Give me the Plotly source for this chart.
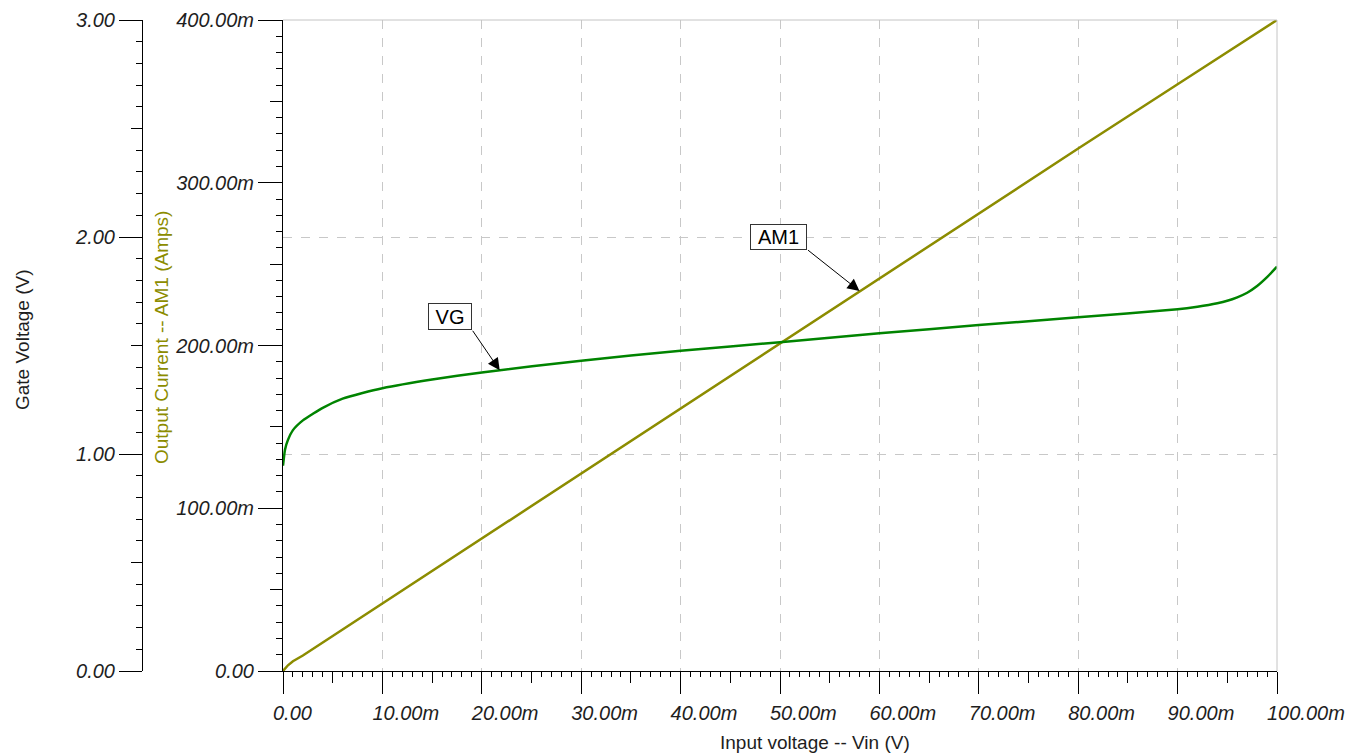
import numpy as np
import plotly.graph_objects as go

# Output current AM1 (A) versus input voltage Vin (V)
vin_am1 = [0.0, 0.0005, 0.001, 0.002, 0.005, 0.010, 0.020, 0.030, 0.040,
           0.050, 0.060, 0.070, 0.080, 0.090, 0.100]
am1 = [0.0, 0.0035, 0.006, 0.0095, 0.0215, 0.0415, 0.0815, 0.1215, 0.1615,
       0.2015, 0.2415, 0.281, 0.321, 0.3605, 0.400]

# Gate voltage VG (V) versus input voltage Vin (V)
vin_vg = [0.0, 0.0002, 0.0005, 0.001, 0.002, 0.003, 0.004, 0.006, 0.008, 0.010,
          0.015, 0.020, 0.030, 0.040, 0.050, 0.060, 0.070, 0.080, 0.090,
          0.092, 0.094, 0.095, 0.096, 0.097, 0.098, 0.099, 0.100]
vg = [0.946, 1.02, 1.065, 1.11, 1.155, 1.185, 1.213, 1.255, 1.281, 1.303,
      1.343, 1.376, 1.430, 1.476, 1.515, 1.556, 1.594, 1.630, 1.667,
      1.679, 1.695, 1.706, 1.722, 1.743, 1.774, 1.815, 1.863]

# Axis ticks and labels
x_ticks = [0.0, 0.01, 0.02, 0.03, 0.04, 0.05, 0.06, 0.07, 0.08, 0.09, 0.10]
x_labels = ["0.00", "10.00m", "20.00m", "30.00m", "40.00m", "50.00m",
            "60.00m", "70.00m", "80.00m", "90.00m", "100.00m"]
x_mid_ticks = [0.005, 0.015, 0.025, 0.035, 0.045, 0.055, 0.065, 0.075, 0.085, 0.095]

cur_ticks = [0.0, 0.1, 0.2, 0.3, 0.4]
cur_labels = ["0.00", "100.00m", "200.00m", "300.00m", "400.00m"]
cur_mid_ticks = [0.05, 0.15, 0.25, 0.35]

gate_ticks = [0.0, 1.0, 2.0, 3.0]
gate_labels = ["0.00", "1.00", "2.00", "3.00"]
gate_mid_ticks = [0.5, 1.5, 2.5]

# Probe labels: name and the Vin where the pointer touches the trace
vg_label, vg_label_vin = "VG", 0.0218
am1_label, am1_label_vin = "AM1", 0.0580

W, H = 1361, 756
ML, MR, MT, MB = 0, 84, 20, 85
PW = W - ML - MR
PH = H - MT - MB
PLOT_LEFT = 283
GATE_AXIS_X = 142

OLIVE = "#8c8c00"
GREEN = "#008400"
INK = "#1e1e1e"
GRID = "#c8c8c8"
FONT = "Liberation Sans, Arial, sans-serif"
FS = 19
TICK_FS = 20

tick_font = dict(family=FONT, size=TICK_FS, color=INK, style="italic")

fig = go.Figure()

fig.add_trace(go.Scatter(
    x=vin_am1, y=am1, mode="lines", name="AM1",
    line=dict(color=OLIVE, width=2.5),
    xaxis="x", yaxis="y", showlegend=False, hoverinfo="x+y",
))
fig.add_trace(go.Scatter(
    x=vin_vg, y=vg, mode="lines", name="VG",
    line=dict(color=GREEN, width=2.5, shape="spline", smoothing=0.5),
    xaxis="x", yaxis="y2", showlegend=False, hoverinfo="x+y",
))

# empty traces so the tick-only helper axes get drawn
for xa, ya in (("x2", "y"), ("x", "y3"), ("x", "y4")):
    fig.add_trace(go.Scatter(x=[None], y=[None], xaxis=xa, yaxis=ya,
                             mode="lines", showlegend=False, hoverinfo="skip"))

x_domain = [(PLOT_LEFT - ML) / PW, 1.0]
gate_pos = (GATE_AXIS_X - ML) / PW

common_tick = dict(ticks="outside", tickcolor="black", tickwidth=1)

fig.update_layout(
    width=W, height=H,
    margin=dict(l=ML, r=MR, t=MT, b=MB, autoexpand=False),
    paper_bgcolor="white", plot_bgcolor="white",
    showlegend=False,
    xaxis=dict(
        domain=x_domain, range=[0, 0.1], anchor="y",
        tickmode="array", tickvals=x_ticks, ticktext=x_labels,
        ticklen=22, **common_tick,
        minor=dict(tickmode="linear", tick0=0, dtick=0.001, ticks="outside",
                   ticklen=5, tickcolor="black", tickwidth=1, showgrid=False),
        showline=True, linecolor="black", linewidth=1,
        showgrid=True, gridcolor=GRID, griddash="dash", gridwidth=1,
        zeroline=False, tickfont=tick_font,
        ticklabelposition="outside right", ticklabelshift=-11,
        ticklabelstandoff=24, ticklabeloverflow="allow",
        automargin=False,
    ),
    xaxis2=dict(
        overlaying="x", anchor="y", side="bottom", range=[0, 0.1],
        tickmode="array", tickvals=x_mid_ticks, ticklen=11, **common_tick,
        showticklabels=False, showline=False, showgrid=False, zeroline=False,
        automargin=False,
    ),
    yaxis=dict(
        range=[0, 0.4], anchor="x", side="left",
        tickmode="array", tickvals=cur_ticks, ticktext=cur_labels,
        ticklen=24, **common_tick,
        minor=dict(tickmode="linear", tick0=0, dtick=0.01, ticks="outside",
                   ticklen=6, tickcolor="black", tickwidth=1, showgrid=False),
        showline=True, linecolor="black", linewidth=1,
        showgrid=False, zeroline=False, tickfont=tick_font,
        automargin=False,
    ),
    yaxis3=dict(
        overlaying="y", anchor="x", side="left", range=[0, 0.4],
        tickmode="array", tickvals=cur_mid_ticks, ticklen=12, **common_tick,
        showticklabels=False, showline=False, showgrid=False, zeroline=False,
        automargin=False,
    ),
    yaxis2=dict(
        overlaying="y", anchor="free", position=gate_pos, side="left",
        range=[0, 3],
        tickmode="array", tickvals=gate_ticks, ticktext=gate_labels,
        ticklen=23, **common_tick,
        minor=dict(tickmode="linear", tick0=0, dtick=0.1, ticks="outside",
                   ticklen=6, tickcolor="black", tickwidth=1, showgrid=False),
        showline=True, linecolor="black", linewidth=1,
        showgrid=True, gridcolor=GRID, griddash="dash", gridwidth=1,
        zeroline=False, tickfont=tick_font,
        automargin=False,
    ),
    yaxis4=dict(
        overlaying="y", anchor="free", position=gate_pos, side="left",
        range=[0, 3],
        tickmode="array", tickvals=gate_mid_ticks, ticklen=11, **common_tick,
        showticklabels=False, showline=False, showgrid=False, zeroline=False,
        automargin=False,
    ),
)

# light frame along the top and right of the plot area
fig.add_shape(type="line", xref="x domain", yref="y domain",
              x0=0, x1=1, y0=1, y1=1, line=dict(color="#c4c4c4", width=1))
fig.add_shape(type="line", xref="x domain", yref="y domain",
              x0=1, x1=1, y0=0, y1=1, line=dict(color="#c4c4c4", width=1))


def paper_x(px):
    return (px - ML) / PW


def paper_y(py):
    return (H - MB - py) / PH


title_font = dict(family=FONT, size=FS, color=INK)
fig.add_annotation(text="Gate Voltage (V)", x=paper_x(22), y=paper_y(340),
                   xref="paper", yref="paper", textangle=-90, showarrow=False,
                   font=title_font, xanchor="center", yanchor="middle")
fig.add_annotation(text="Output Current -- AM1 (Amps)", x=paper_x(161), y=paper_y(338),
                   xref="paper", yref="paper", textangle=-90, showarrow=False,
                   font=dict(family=FONT, size=FS, color=OLIVE),
                   xanchor="center", yanchor="middle")
fig.add_annotation(text="Input voltage -- Vin (V)", x=paper_x(815), y=paper_y(742),
                   xref="paper", yref="paper", showarrow=False,
                   font=title_font, xanchor="center", yanchor="middle")


def probe(label, vin_at, xs, ys, yref, box_dx, box_dy, tail_dx, tail_dy, box_w, box_h):
    y_at = float(np.interp(vin_at, xs, ys))
    fig.add_annotation(x=vin_at, y=y_at, xref="x", yref=yref, text="",
                       showarrow=True, arrowhead=2, arrowsize=2.4, arrowwidth=1,
                       arrowcolor="black", ax=tail_dx, ay=tail_dy, standoff=0)
    fig.add_annotation(x=vin_at, y=y_at, xref="x", yref=yref, text=label,
                       showarrow=False, xshift=box_dx, yshift=box_dy,
                       font=dict(family=FONT, size=FS + 1, color="black"),
                       bgcolor="white", bordercolor="#333333", borderwidth=1,
                       borderpad=1, width=box_w, height=box_h,
                       xanchor="center", yanchor="middle")


probe(vg_label, vg_label_vin, vin_vg, vg, "y2",
      box_dx=-50, box_dy=54, tail_dx=-28, tail_dy=-41, box_w=40, box_h=23)
probe(am1_label, am1_label_vin, vin_am1, am1, "y",
      box_dx=-81, box_dy=54, tail_dx=-53, tail_dy=-42, box_w=53, box_h=22)

fig.write_html("out.html")
